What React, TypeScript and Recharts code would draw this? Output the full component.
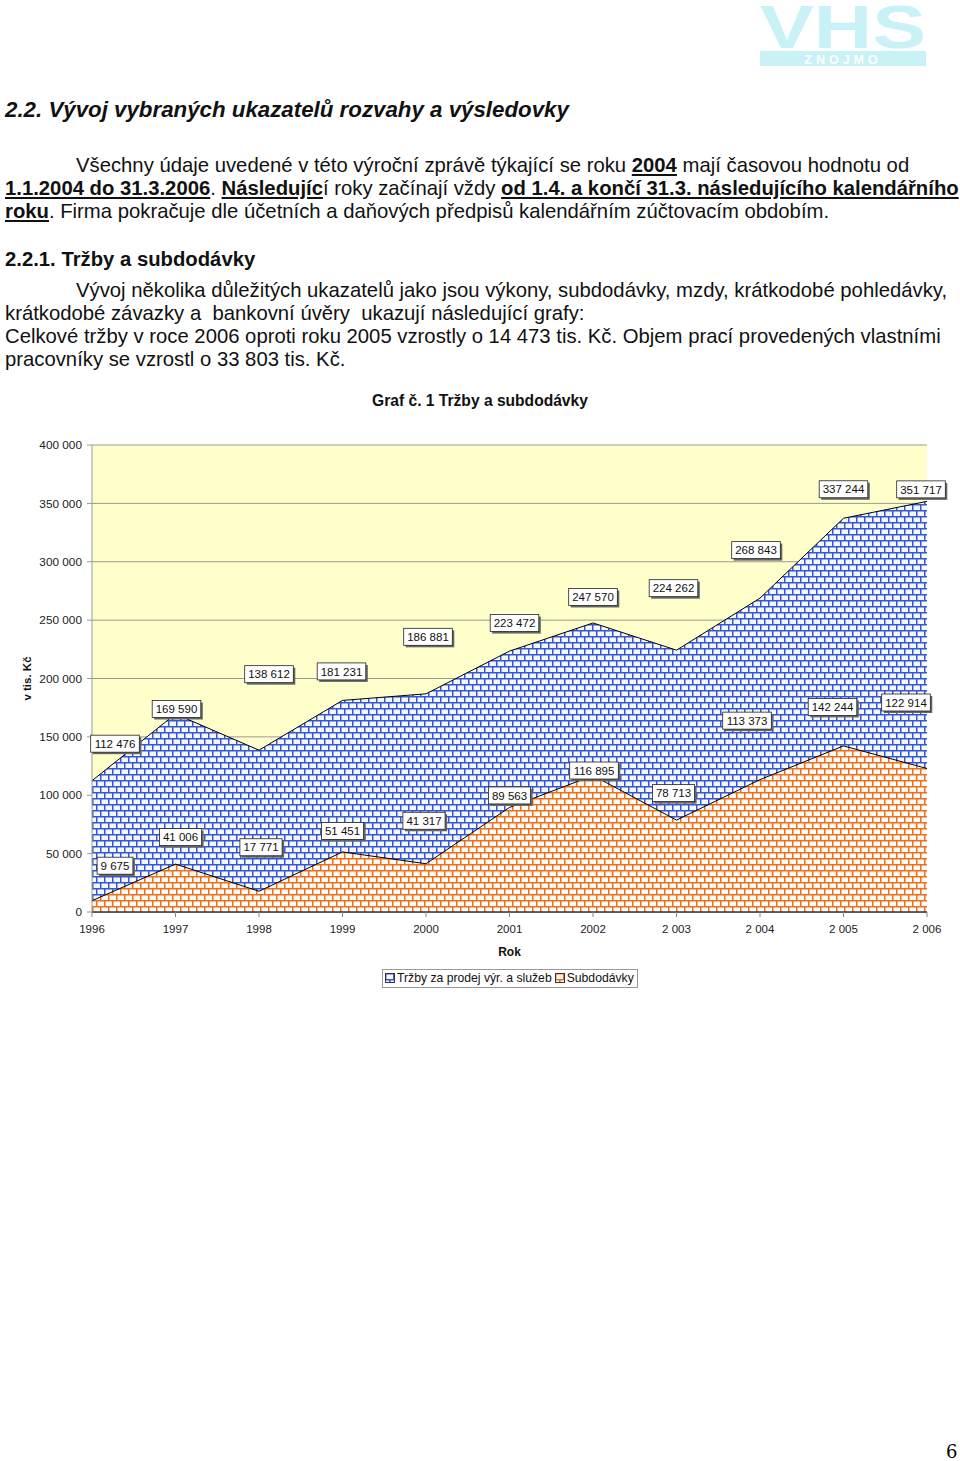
import React from "react";
import { AreaChart, Area, XAxis, YAxis, CartesianGrid, Label } from "recharts";

const YEARS = ["1996", "1997", "1998", "1999", "2000", "2001", "2002", "2 003", "2 004", "2 005", "2 006"];
const TRZBY = [112476, 169590, 138612, 181231, 186881, 223472, 247570, 224262, 268843, 337244, 351717];
const SUBDODAVKY = [9675, 41006, 17771, 51451, 41317, 89563, 116895, 78713, 113373, 142244, 122914];
const Y_TICKS = [0, 50000, 100000, 150000, 200000, 250000, 300000, 350000, 400000];

// label nudges (label centre relative to the data point), hand placed in the original
const TRZBY_SHIFT = [
  [23, -37], [1, -5], [10, -76], [-1, -29], [2, -57], [5, -28], [0, -26], [-3, -62], [-4, -48], [0, -29], [-6, -12],
];
const SUB_SHIFT = [
  [23, -35], [5, -27], [2, -44], [0, -21], [-2, -43], [0, -12], [1, -5], [-3, -27], [-13, -59], [-11, -39], [-21, -66],
];

const data = YEARS.map((year, i) => ({ year, trzby: TRZBY[i], sub: SUBDODAVKY[i] }));

const fmt = (v: number) => String(v).replace(/\B(?=(\d{3})+(?!\d))/g, " ");
const FONT = "'Liberation Sans', Arial, sans-serif";

function makeLabel(shifts: number[][]) {
  return (props: any) => {
    const { x, y, value, index } = props;
    if (x == null || y == null) return null;
    const s = fmt(Number(value));
    const digits = s.replace(/ /g, "").length;
    const w = digits * 6.4 + (s.length - digits) * 3.2 + 7;
    const h = 17;
    const cx = x + shifts[index][0];
    const cy = y + shifts[index][1];
    return (
      <g key={`lbl-${index}`}>
        <rect x={cx - w / 2 + 2} y={cy - h / 2 + 2} width={w} height={h} fill="#666" />
        <rect x={cx - w / 2} y={cy - h / 2} width={w} height={h} fill="#ffffff" stroke="#222" strokeWidth={0.8} />
        <text x={cx} y={cy} dy="0.36em" textAnchor="middle" fontSize={11.5} fontFamily={FONT} fill="#111">
          {s}
        </text>
      </g>
    );
  };
}

const line = (top: number, left: number, children: React.ReactNode, extra: React.CSSProperties = {}) => (
  <div
    style={{
      position: "absolute",
      top,
      left,
      whiteSpace: "pre",
      fontFamily: FONT,
      fontSize: 20.3,
      lineHeight: "22px",
      color: "#111",
      ...extra,
    }}
  >
    {children}
  </div>
);

const BU = ({ children }: { children: React.ReactNode }) => (
  <span style={{ fontWeight: "bold", textDecoration: "underline" }}>{children}</span>
);

function BrickIcon({ id, gap = 0 }: { id: string; gap?: number }) {
  return (
    <svg width={10} height={10} style={{ verticalAlign: "-1px", marginRight: 2, marginLeft: gap }}>
      <rect x={0.5} y={0.5} width={9} height={9} fill={`url(#${id})`} stroke="#333" strokeWidth={1} />
    </svg>
  );
}

export default function App() {
  return (
    <div style={{ position: "absolute", left: 0, top: 0, width: 960, height: 1461, background: "#fff", overflow: "hidden" }}>
      {/* logo */}
      <svg style={{ position: "absolute", left: 758, top: 0 }} width={170} height={68}>
        <text x={2} y={48} fontFamily={FONT} fontWeight="bold" fontSize={61} fill="#c8f2f6" textLength={166} lengthAdjust="spacingAndGlyphs">
          VHS
        </text>
        <rect x={2} y={51} width={166} height={15} fill="#c8f2f6" />
        <text x={85} y={63.5} textAnchor="middle" fontFamily={FONT} fontWeight="bold" fontSize={12.5} fill="#ffffff" letterSpacing={4}>
          ZNOJMO
        </text>
      </svg>

      {line(99, 5, "2.2. Vývoj vybraných ukazatelů rozvahy a výsledovky", { fontSize: 22.3, fontWeight: "bold", fontStyle: "italic" })}

      {line(154, 76, <>Všechny údaje uvedené v této výroční zprávě týkající se roku <BU>2004</BU> mají časovou hodnotu od</>)}
      {line(177, 5, <><BU>1.1.2004 do 31.3.2006</BU>. <BU>Následujíc</BU>í roky začínají vždy <BU>od 1.4. a končí 31.3. následujícího kalendářního</BU></>)}
      {line(200, 5, <><BU>roku</BU>. Firma pokračuje dle účetních a daňových předpisů kalendářním zúčtovacím obdobím.</>)}

      {line(248, 5, "2.2.1. Tržby a subdodávky", { fontWeight: "bold" })}
      {line(279, 76, "Vývoj několika důležitých ukazatelů jako jsou výkony, subdodávky, mzdy, krátkodobé pohledávky,")}
      {line(302, 5, "krátkodobé závazky a  bankovní úvěry  ukazují následující grafy:")}
      {line(325, 5, "Celkové tržby v roce 2006 oproti roku 2005 vzrostly o 14 473 tis. Kč. Objem prací provedených vlastními")}
      {line(348, 5, "pracovníky se vzrostl o 33 803 tis. Kč.")}

      {line(391, 0, "Graf č. 1 Tržby a subdodávky", { fontSize: 15.6, fontWeight: "bold", width: 960, textAlign: "center", lineHeight: "20px" })}

      <div style={{ position: "absolute", left: 0, top: 420 }}>
        <AreaChart width={960} height={540} data={data} margin={{ top: 25, right: 33, left: 0, bottom: 0 }}>
          <defs>
            <pattern id="brickBlue" width={8} height={12} patternUnits="userSpaceOnUse">
              <rect width={8} height={12} fill="#f6f8ff" />
              <path d="M0 0.75H8M0 6.75H8" stroke="#3557d4" strokeWidth={1.5} />
              <path d="M0.75 0V6.75M4.75 6.75V12" stroke="#3557d4" strokeWidth={1.5} />
            </pattern>
            <pattern id="brickOrange" width={8} height={12} patternUnits="userSpaceOnUse">
              <rect width={8} height={12} fill="#fffaf4" />
              <path d="M0 0.75H8M0 6.75H8" stroke="#e8701e" strokeWidth={1.5} />
              <path d="M0.75 0V6.75M4.75 6.75V12" stroke="#e8701e" strokeWidth={1.5} />
            </pattern>
          </defs>
          <CartesianGrid vertical={false} stroke="#9a9a90" fill="#ffffcc" />
          <XAxis
            dataKey="year"
            height={48}
            tickSize={5}
            tickMargin={8}
            tick={{ fontSize: 11.5, fontFamily: FONT, fill: "#222" }}
            axisLine={{ stroke: "#333", strokeWidth: 1.5 }}
            tickLine={{ stroke: "#888" }}
            interval={0}
          >
            <Label
              content={(p: any) => {
                const vb = p.viewBox || {};
                return (
                  <text x={vb.x + vb.width / 2} y={vb.y + 44} textAnchor="middle" fontSize={12} fontWeight="bold" fontFamily={FONT} fill="#111">
                    Rok
                  </text>
                );
              }}
            />
          </XAxis>
          <YAxis
            width={92}
            domain={[0, 400000]}
            ticks={Y_TICKS}
            tickFormatter={fmt}
            tickSize={5}
            tickMargin={5}
            tick={{ fontSize: 11.8, fontFamily: FONT, fill: "#222" }}
            axisLine={{ stroke: "#999" }}
            tickLine={{ stroke: "#999" }}
          >
            <Label
              content={(p: any) => {
                const vb = p.viewBox || {};
                const cy = vb.y + vb.height / 2;
                return (
                  <text x={31} y={cy} transform={`rotate(-90, 31, ${cy})`} textAnchor="middle" fontSize={11.5} fontWeight="bold" fontFamily={FONT} fill="#111">
                    v tis. Kč
                  </text>
                );
              }}
            />
          </YAxis>
          <Area
            type="linear"
            dataKey="trzby"
            stroke="#000"
            strokeWidth={1}
            fill="url(#brickBlue)"
            fillOpacity={1}
            isAnimationActive={false}
            label={makeLabel(TRZBY_SHIFT)}
          />
          <Area
            type="linear"
            dataKey="sub"
            stroke="#000"
            strokeWidth={1}
            fill="url(#brickOrange)"
            fillOpacity={1}
            isAnimationActive={false}
            label={makeLabel(SUB_SHIFT)}
          />
        </AreaChart>
      </div>

      <div
        style={{
          position: "absolute",
          left: 382,
          top: 969,
          width: 252,
          height: 17,
          border: "1px solid #999",
          fontFamily: FONT,
          fontSize: 12.2,
          lineHeight: "17px",
          color: "#111",
          paddingLeft: 2,
          whiteSpace: "nowrap",
        }}
      >
        <BrickIcon id="brickBlue" />Tržby za prodej výr. a služeb<BrickIcon id="brickOrange" gap={3} />Subdodávky
      </div>

      <div style={{ position: "absolute", left: 946, top: 1443, fontFamily: "'DejaVu Serif', serif", fontSize: 18, lineHeight: "18px" }}>6</div>
    </div>
  );
}
